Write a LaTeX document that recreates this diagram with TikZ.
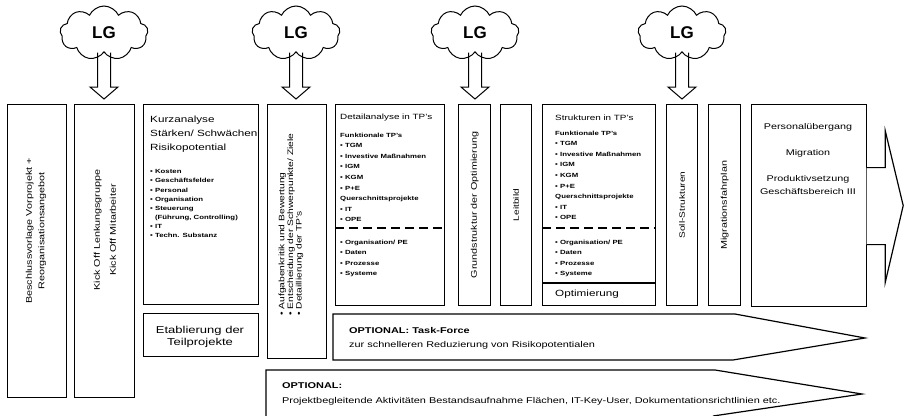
\documentclass[tikz,border=0pt]{standalone}
\usepackage{fontspec}
\setmainfont{Liberation Sans}[FakeStretch=1.3]
\newfontfamily\lgfont{Liberation Sans}
\usetikzlibrary{shapes.symbols,calc}

\tikzset{
  phase/.style={rectangle, draw, line width=1.2pt, inner sep=0pt, anchor=north west},
  lgcloud/.style={cloud, draw, line width=1pt, cloud puffs=9, cloud puff arc=130, cloud ignores aspect,
    minimum width=88pt, minimum height=54pt, inner sep=0pt, font=\lgfont\bfseries\fontsize{17}{17}\selectfont},
  lgarrow/.style={draw, line width=1pt, line join=miter},
  vtext/.style={rotate=90, align=center, inner sep=0pt, font=\fontsize{8.3}{12.5}\selectfont},
  headtext/.style={anchor=north west, align=left, inner sep=0pt, font=\fontsize{9}{14}\selectfont},
  listtext/.style={anchor=north west, align=left, inner sep=0pt, font=\bfseries\fontsize{6}{9.1}\selectfont},
  tplist/.style={listtext, font=\bfseries\fontsize{6}{10.6}\selectfont},
  option/.style={draw, line width=1.2pt, line join=miter},
  divider/.style={line width=1.2pt, dash pattern=on 9pt off 5pt}
}

\begin{document}
\begin{tikzpicture}[x=1pt, y=-1pt]
  \useasboundingbox (0,0) rectangle (904,415);

  \node[lgcloud] (lga) at (104,33) {LG};
  \node[lgcloud] (lgb) at (296,33) {LG};
  \node[lgcloud] (lgc) at (475,33) {LG};
  \node[lgcloud] (lgd) at (682,33) {LG};

  \node[phase, minimum width=59pt, minimum height=293pt] (vorlage) at (7,104) {};
  \node[phase, minimum width=60pt, minimum height=293pt] (kickoff) at (74,104) {};
  \node[phase, minimum width=115pt, minimum height=200pt] (kurz) at (143,104) {};
  \node[phase, minimum width=115pt, minimum height=43pt] (etab) at (143,313) {};
  \node[phase, minimum width=59pt, minimum height=254pt] (aufgabe) at (267,104) {};
  \node[phase, minimum width=109pt, minimum height=201pt] (detail) at (335,104) {};
  \node[phase, minimum width=32pt, minimum height=201pt] (grund) at (458,104) {};
  \node[phase, minimum width=31pt, minimum height=201pt] (leit) at (500,104) {};
  \node[phase, minimum width=113pt, minimum height=201pt] (struktur) at (542,104) {};
  \node[phase, minimum width=31pt, minimum height=201pt] (soll) at (666,104) {};
  \node[phase, minimum width=32pt, minimum height=201pt] (migplan) at (708,104) {};
  \node[phase, minimum width=115pt, minimum height=202pt] (uebergang) at (751,104) {};

  \filldraw[option, fill=white] ($(uebergang.east)+(-0.6,-38)$) -- ($(uebergang.east)+(18,-38)$)
    -- ($(uebergang.east)+(18,-75)$) -- ($(uebergang.east)+(36,0)$) -- ($(uebergang.east)+(18,77)$)
    -- ($(uebergang.east)+(18,39)$) -- ($(uebergang.east)+(-0.6,39)$);

  \foreach \wolke/\ziel in {lga/kickoff, lgb/aufgabe, lgc/grund, lgd/soll}
    \draw[lgarrow] ($(\wolke.south)+(-6.5,0)$) -- ($(\wolke.south |- \ziel.north)+(-6.5,-17)$) -- ++(-7.5,0)
      -- ($(\wolke.south |- \ziel.north)+(0,-5)$) -- ++(14,-12) -- ++(-7.5,0) -- ($(\wolke.south)+(6.5,0)$);

  \node[vtext] (vorlagetxt) at (36,231) {Beschlussvorlage Vorprojekt +\\Reorganisationsangebot};
  \node[vtext, font=\fontsize{8.3}{16}\selectfont] (kickofftxt) at (105,230) {Kick Off Lenkungsgruppe\\Kick Off Mitarbeiter};

  \node[headtext] (kurzkopf) at (150,116) {Kurzanalyse\\Stärken/ Schwächen\\Risikopotential};
  \node[listtext] (kurzliste) at (150,169.5) {• Kosten\\• Geschäftsfelder\\• Personal\\• Organisation\\• Steuerung\\\hphantom{• }(Führung, Controlling)\\• IT\\• Techn. Substanz};
  \node[align=center, inner sep=0pt, font=\fontsize{10}{11.5}\selectfont] (etabtxt) at (200,337) {Etablierung der\\Teilprojekte};

  \node[vtext, align=left, anchor=west, font=\fontsize{7.9}{8.6}\selectfont] (aufgabetxt) at (291,316) {• Aufgabenkritik und Bewertung\\• Entscheidung der Schwerpunkte/ Ziele\\• Detaillierung der TP's};

  \node[headtext, font=\fontsize{7.6}{9}\selectfont] (detailkopf) at (340,114) {Detailanalyse in TP's};
  \node[tplist] (detailtp) at (340,132.5) {Funktionale TP's\\• TGM\\• Investive Maßnahmen\\• IGM\\• KGM\\• P+E\\Querschnittsprojekte\\• IT\\• OPE};
  \draw[divider] ($(detail.north west)+(0,124)$) -- ($(detail.north east)+(0,124)$);
  \node[tplist] (detailsys) at (340,239.5) {• Organisation/ PE\\• Daten\\• Prozesse\\• Systeme};

  \node[vtext] (grundtxt) at (grund.center) {Grundstruktur der Optimierung};
  \node[vtext, font=\fontsize{7.8}{9}\selectfont] (leittxt) at (leit.center) {Leitbild};

  \node[headtext, font=\fontsize{7.6}{9}\selectfont] (strukturkopf) at (555,115) {Strukturen in TP's};
  \node[tplist] (strukturtp) at (555,130.5) {Funktionale TP's\\• TGM\\• Investive Maßnahmen\\• IGM\\• KGM\\• P+E\\Querschnittsprojekte\\• IT\\• OPE};
  \draw[divider] ($(struktur.north west)+(0,124)$) -- ($(struktur.north east)+(0,124)$);
  \node[tplist] (struktursys) at (555,239.5) {• Organisation/ PE\\• Daten\\• Prozesse\\• Systeme};
  \draw[line width=1.2pt] ($(struktur.north west)+(0,179)$) -- ($(struktur.north east)+(0,179)$);
  \node[anchor=west, inner sep=0pt, font=\fontsize{9}{10}\selectfont] (optimierung) at (555,294) {Optimierung};

  \node[vtext, font=\fontsize{7.8}{9}\selectfont] (solltxt) at (soll.center) {Soll-Strukturen};
  \node[vtext] (migplantxt) at (migplan.center) {Migrationsfahrplan};

  \node[align=center, anchor=north, inner sep=0pt, font=\fontsize{8.3}{13}\selectfont] (uebergangtxt) at (808,123) {Personalübergang\\[13pt]Migration\\[13pt]Produktivsetzung\\Geschäftsbereich III};

  \draw[option] (333,314) -- (735,314) -- (865,338) -- (733,360) -- (333,360) -- cycle;
  \node[anchor=north west, align=left, inner sep=0pt, font=\fontsize{8.4}{14}\selectfont] (taskforce) at (349,327) {\textbf{OPTIONAL: Task-Force}\\zur schnelleren Reduzierung von Risikopotentialen};

  \draw[option] (266,416) -- (266,370) -- (715,370) -- (862,394) -- (713,416);
  \node[anchor=north west, align=left, inner sep=0pt, font=\fontsize{8.4}{15}\selectfont] (begleitend) at (282,382) {\textbf{OPTIONAL:}\\Projektbegleitende Aktivitäten Bestandsaufnahme Flächen, IT-Key-User, Dokumentationsrichtlinien etc.};
\end{tikzpicture}
\end{document}
